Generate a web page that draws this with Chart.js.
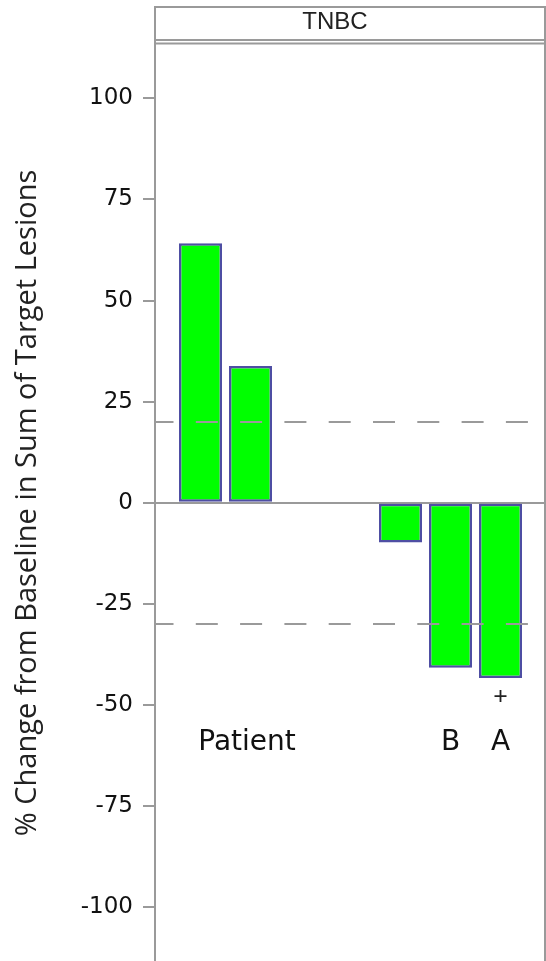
<!DOCTYPE html>
<html>
<head>
<meta charset="utf-8">
<script src="https://cdn.jsdelivr.net/npm/chart.js@4.4.0/dist/chart.umd.min.js"></script>
<style>
  html, body { margin: 0; padding: 0; background: #fff; }
  #wrap { width: 546px; height: 961px; overflow: hidden; }
</style>
</head>
<body>
<div id="wrap"><canvas id="waterfall" width="546" height="961"></canvas></div>
<script>
// best % change per patient slot (slots 3 and 4 are empty)
const barSlots = [1, 2, 5, 6, 7];
const barChange = [64.2, 33.8, -9.8, -40.8, -43.3];

const yTickValues = [100, 75, 50, 25, 0, -25, -50, -75, -100];
const refLines = [20, -30];   // progression / response thresholds

// text notes under the bars
const noteText = ['Patient', 'B', 'A'];
const noteSlots = [1.93, 6, 7];
const noteValues = [-59.3, -59.3, -59.3];

// "+" marker
const plusSlots = [7];
const plusValues = [-47.8];

const panelTitle = 'TNBC';
const axisTitle = '% Change from Baseline in Sum of Target Lesions';

const gray = '#9a9a9a';

const panelPlugin = {
    id: 'panel',
    afterDatasetsDraw(chart) {
        const { ctx, chartArea, scales } = chart;
        const x = scales.x, y = scales.y;
        ctx.save();
        // dashed threshold lines, on top of the bars
        ctx.strokeStyle = gray;
        ctx.lineWidth = 2;
        ctx.setLineDash([22, 22.3]);
        ctx.lineDashOffset = 3.5;
        refLines.forEach(v => {
            const py = Math.round(y.getPixelForValue(v));
            ctx.beginPath();
            ctx.moveTo(chartArea.left, py);
            ctx.lineTo(chartArea.right, py);
            ctx.stroke();
        });
        ctx.setLineDash([]);
        // notes
        ctx.fillStyle = '#111';
        ctx.font = '28px "DejaVu Sans"';
        ctx.textAlign = 'center';
        ctx.textBaseline = 'middle';
        noteText.forEach((t, i) => {
            ctx.fillText(t, x.getPixelForValue(noteSlots[i]), y.getPixelForValue(noteValues[i]));
        });
        ctx.restore();
    },
    afterDraw(chart) {
        // header strip and right frame line
        const { ctx, chartArea } = chart;
        const l = chartArea.left, r = chartArea.right;
        ctx.save();
        ctx.strokeStyle = gray;
        ctx.lineWidth = 2;
        ctx.beginPath();
        ctx.moveTo(l, 7); ctx.lineTo(r, 7);
        ctx.moveTo(l, 40); ctx.lineTo(r, 40);
        ctx.moveTo(l, 43.5); ctx.lineTo(r, 43.5);
        ctx.moveTo(l, 6); ctx.lineTo(l, 45);
        ctx.moveTo(r, 6); ctx.lineTo(r, chartArea.bottom);
        ctx.stroke();
        ctx.fillStyle = '#222';
        ctx.font = '24px "Liberation Sans"';
        ctx.textAlign = 'center';
        ctx.textBaseline = 'middle';
        ctx.fillText(panelTitle, 335, 22);
        ctx.restore();
    }
};

new Chart(document.getElementById('waterfall'), {
    type: 'bar',
    data: {
        datasets: [{
            data: barSlots.map((s, i) => ({ x: s, y: barChange[i] })),
            backgroundColor: '#00ff00',
            borderColor: '#4e4ea3',
            borderWidth: 2.5,
            borderSkipped: false,
            categoryPercentage: 1,
            barPercentage: 0.86,
            order: 2
        }, {
            type: 'scatter',
            data: plusSlots.map((s, i) => ({ x: s, y: plusValues[i] })),
            pointStyle: 'cross',
            radius: 6,
            borderColor: '#222',
            borderWidth: 1.8,
            order: 1
        }]
    },
    options: {
        responsive: false,
        animation: false,
        layout: { autoPadding: false, padding: { top: 45, right: 1, left: 0, bottom: 0 } },
        plugins: {
            legend: { display: false },
            tooltip: { enabled: false }
        },
        scales: {
            x: {
                type: 'linear',
                min: 0.09,
                max: 7.89,
                offset: false,
                display: false,
                afterBuildTicks: s => { s.ticks = barSlots.map(v => ({ value: v })); }
            },
            y: {
                min: -113.3,
                max: 113.2,
                afterBuildTicks: s => { s.ticks = yTickValues.map(v => ({ value: v })); },
                afterFit: s => {
                    s.width = 155;
                    s.paddingTop = 0;
                    s.paddingBottom = 0;
                },
                border: { color: gray, width: 2 },
                grid: {
                    color: c => (c.tick && c.tick.value === 0) ? gray : 'rgba(0,0,0,0)',
                    tickColor: gray,
                    lineWidth: 2,
                    tickLength: 12
                },
                ticks: {
                    color: '#111',
                    font: { family: 'DejaVu Sans', size: 23 },
                    padding: 10
                },
                title: {
                    display: true,
                    text: axisTitle,
                    color: '#222',
                    font: { family: 'Open Sans', size: 29 },
                    padding: { top: 10, bottom: 0 }
                }
            }
        }
    },
    plugins: [panelPlugin]
});
</script>
</body>
</html>
